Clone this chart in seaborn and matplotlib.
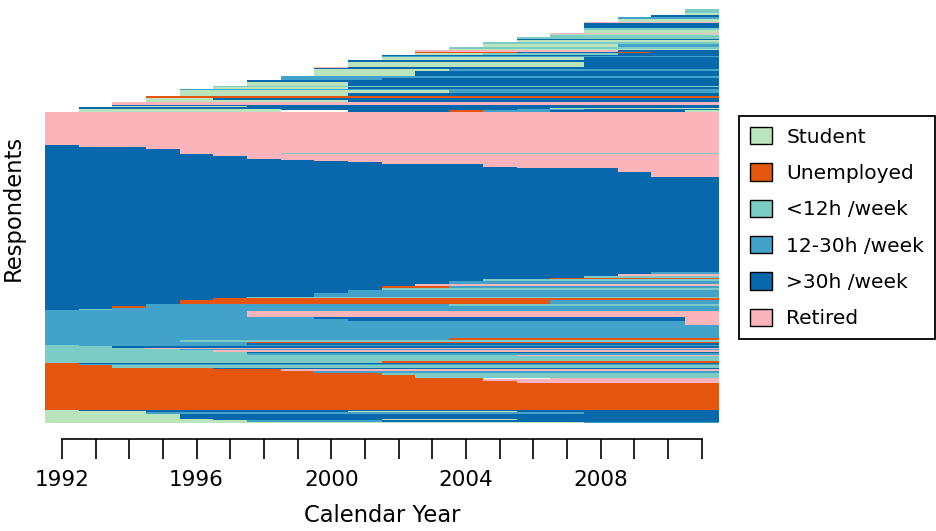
import matplotlib
matplotlib.use("Agg")
import matplotlib.pyplot as plt
from matplotlib.patches import Patch
import numpy as np
import pandas as pd
import seaborn as sns

# ---- data -----------------------------------------------------------------
years = list(range(1992, 2012))
tick_label_years = [1992, 1996, 2000, 2004, 2008]

state_codes = ["S", "U", "L", "M", "F", "R"]
state_labels = ["Student", "Unemployed", "<12h /week", "12-30h /week", ">30h /week", "Retired"]
state_colors = ["#BAE4BC", "#E6550D", "#7BCCC4", "#43A2CA", "#0868AC", "#FBB4B9"]

# One entry per group of respondents sharing a trajectory, listed bottom-up.
# Each character is the activity in one calendar year ('.' = not yet observed).
sequence_counts = [
    # students in 1992
    1, 2, 1, 5, 2, 1, 1,
    # unemployed in 1992
    27, 2, 2, 1, 3, 2, 2, 2, 1, 3, 1, 1,
    # <12h /week in 1992
    2, 5, 1, 2, 1, 2, 1, 1, 2, 1,
    # 12-30h /week in 1992
    2, 1, 2, 2, 13, 4, 2, 2, 6, 1,
    # >30h /week in 1992
    1, 1, 2, 2, 4, 2, 1, 4, 3, 2, 2, 2, 3, 2, 1, 2, 2, 2,
    95,
    5, 4, 1, 3, 2, 1, 1, 1, 3, 2, 1, 4, 2, 2,
    # retired in 1992
    33,
    # later panel entrants, 1993 .. 2011
    2, 1, 1, 1,
    1, 1, 3,
    2, 2, 2,
    3, 3, 1,
    2, 1,
    4, 2,
    2, 2,
    5, 2, 1, 1,
    5, 2,
    3, 1, 1,
    2, 1, 2,
    1, 2,
    3, 2,
    2, 1, 2,
    2, 1, 1,
    3, 2, 5, 1,
    3, 2,
    2,
    2, 4,
]
sequence_states = [
    "SSSSSSSSSSSSSSSSMMMM", "SSSSSSMMMMFFFFFFFFFF", "SSSSSFFFFFSSSSFFFFFF",
    "SSSSFFFFFFFFFFFFFFFF", "SSSMMMMMMMMMMMMMFFFF", "SSSFFFFFFSSSSSFFFFFF",
    "SFFFFFFFFFFFFFFFFFFF",

    "UUUUUUUUUUUUUUUUUUUU", "UUUUUUUUUUUUUURRRRRR", "UUUUUUUUUUUUURRRRRRR",
    "UUUUUUUUUUUUU..RRRRR", "UUUUUUUUUUULLLLLLLLL", "UUUUUUUUUULLLLLLLLLL",
    "UUUUUUUUMMMMMMMMMMMM", "UUUUUUURRRRRRRRRRRRR", "UUUUUFFFFFFFFFFFFFFF",
    "UULLLLLLLLLLLLLLLLLL", "UMMMMMMMMMMMMMMMMMMM", "UFFFFFFFFFFFFFFFFFFF",

    "LLLLLLLLLLUUUUUUUUUU", "LLLLLLLLLLLLLLLLLLLL", "LLLLLLLLLLLLLLRRRRRR",
    "LLLLLLMMMMMMMMMMMMMM", "LLLLLLFFFFFFFFFFFFFF", "LLLLLRRRRRRRRRRRRRRR",
    "LLLLMMMMMMMMMMMMMMMM", "LLLRRRRRRRRRRRRRRRRR", "LLFFFFFFFFFFFFFFFFFF",
    "LMMMMMMMMMMMMMMMMMMM",

    "MMMMMMFFFFFFFFFFFFFF", "MMMMMMUUUUUUUUUUUUUU", "MMMMLLLLLLLLLLLLLLLL",
    "MMMMMMMMMMMMUUUUUUUU", "MMMMMMMMMMMMMMMMMMMM", "MMMMMMMMMMMMMMMMMMMR",
    "MMMMMMMMMFFFFFFFFFFR", "MMMMMMMMFFFFFFFFFFFR", "MMMMMMRRRRRRRRRRRRRR",
    "MMMMMMMMMMMMMMMMMMMM",

    "FLMMMMMMMMMMMMMMMMMM", "FFMMMMMMMMMMMMMMMMMM", "FFUMMMMMMMMMMMMMMMMM",
    "FFFMMMMMMMMMLLLLLLLL", "FFFFUUUUUUUUUUUMMMMM", "FFFFFUUUUUUUUUUUUUUU",
    "FFFFFFLLLLLLLLLLLLLL", "FFFFFFFFMMMMMMMMMMMM", "FFFFFFFFFMMMMMMMMMMM",
    "FFFFFFFFFFLLLLLLLLLL", "FFFFFFFFFFUUMMMMMMMM", "FFFFFFFFFFFRRRRRRRRR",
    "FFFFFFFFFFFFMMMMMMMM", "FFFFFFFFFFFFFLLLLLLL", "FFFFFFFFFFFFFFFUUUUU",
    "FFFFFFFFFFFFFFFFLLLL", "FFFFFFFFFFFFFFFFFRRR", "FFFFFFFFFFFFFFFFFFMM",
    "FFFFFFFFFFFFFFFFFFFF",
    "FFFFFFFFFFFFFFFFFFRR", "FFFFFFFFFFFFFFFFFRRR", "FFFFFFFFFFFFFFRRRRRR",
    "FFFFFFFFFFFFFRRRRRRR", "FFFFFFFFFFRRRRRRRRRR", "FFFFFFFFFRRRRRRRRRRR",
    "FFFFFFFFRRRRRRRRRRRR", "FFFFFFFRRRRRRRRRRRRR", "FFFFFFRRRRRRRRRRRRRR",
    "FFFFFRRRRRRRRRRRRRRR", "FFFFRRRLLLLLLLLLLLLL", "FFFFRRRRRRRRRRRRRRRR",
    "FFFRRRRRRRRRRRRRRRRR", "FRRRRRRRRRRRRRRRRRRR",

    "RRRRRRRRRRRRRRRRRRRR",

    ".SSSSSS..FFFUMMFFFFS", ".SSSSSSFFFFFFFMMFFFF", ".FFFFFFFFFFFFFFSSSSS",
    ".FFFFFFFFFFFFFFFFFFF",
    "..SSSSFFFFFFFFFFFFFF", "..FFFFFFFFFFFFFFFFFF", "..RRRRRRRRRRRRRRRRRR",
    "...SSSSSSFFFFFFFFFFF", "...SSFFFFFFFFFFFFFFF", "...UUUUUUUUUUUUUUUUU",
    "....SSSSSFFFFFFFFFFF", "....SSSSSSSSMMMMMMMM", "....MMMMMMMMMMMMMMMM",
    ".....SSSSFFFFFFFFFFF", ".....LLLLLLLLLLLLLLL",
    "......SSSFFFFFFFFFFF", "......FFFFFFFFFFFFFF",
    ".......MMMFFFFFFFFFF", ".......MMMMMMMMMMMMM",
    "........SSSFFFFFFFFF", "........SSSSMMMMMMMM", "........FFFFFFFFFFFF",
    "........RFFFFFFFFFFF",
    ".........SSSSSSSFFFF", ".........FFFFFFFFFFF",
    "..........SSSSSSFFFF", "..........MMMMMMMMMM", "..........FFFFFFFFFF",
    "...........SSLLLLFFF", "...........UUUFFFUFF", "...........RRRRRRFFF",
    "............SSSSSSSS", "............LLLLLLLL",
    ".............SSSSMMM", ".............LLLLLLL",
    "..............SSSSSS", "..............FFFFFF", "..............LLLLLL",
    "...............LLLLL", "...............SSSSS", "...............RRRRR",
    "................SSSS", "................LLLL", "................FFFF",
    "................RRRR",
    ".................SSS", ".................MMM",
    "..................FF",
    "...................S", "...................L",
]

# ---- build one bar per run of identical states --------------------------------
segments = []
bottom = 0
for count, seq in zip(sequence_counts, sequence_states):
    i = 0
    while i < len(seq):
        j = i
        while j < len(seq) and seq[j] == seq[i]:
            j += 1
        if seq[i] != ".":
            segments.append({"state": seq[i], "start": years[i], "length": j - i,
                             "bottom": bottom, "count": count})
        i = j
    bottom += count
segments = pd.DataFrame(segments)
total = bottom

# ---- figure -----------------------------------------------------------------
sns.set_style("white")
plt.rcParams["font.family"] = ["DejaVu Sans"]
plt.rcParams["text.color"] = "black"
plt.rcParams["axes.labelcolor"] = "black"
plt.rcParams["xtick.color"] = "black"
palette = dict(zip(state_codes, sns.color_palette(state_colors)))

W, H = 937, 531
fig = plt.figure(figsize=(W / 100, H / 100), dpi=100)
ax = fig.add_axes([45 / W, 108 / H, 673.6 / W, 414 / H])

for code in state_codes:
    part = segments[segments["state"] == code]
    ax.bar(part["start"] - 0.5, part["count"], width=part["length"],
           bottom=part["bottom"], align="edge", color=palette[code],
           linewidth=0, antialiased=False)

ax.set_xlim(years[0] - 0.5, years[-1] + 0.5)
ax.set_ylim(0, total)

for side in ["top", "right", "left"]:
    ax.spines[side].set_visible(False)
ax.spines["bottom"].set_position(("outward", 11.5))
ax.spines["bottom"].set_bounds(years[0], years[-1])
ax.spines["bottom"].set_linewidth(1.2)
ax.spines["bottom"].set_color("black")

ax.set_xticks(years)
ax.set_xticklabels([str(y) if y in tick_label_years else "" for y in years])
ax.tick_params(axis="x", length=14.4, width=1.2, direction="out", pad=7.7,
               labelsize=15.5, colors="black", bottom=True)
ax.set_yticks([])

ax.set_xlabel("Calendar Year", fontsize=16.3, labelpad=10.5, color="black")
ax.set_ylabel("Respondents", fontsize=16.3, color="black")
ax.yaxis.set_label_coords(-0.0297, 0.519)

handles = [Patch(facecolor=palette[c], edgecolor="black", linewidth=1.0, label=l)
           for c, l in zip(state_codes, state_labels)]
leg = ax.legend(handles=handles, loc="upper left",
                bbox_to_anchor=(739 / W, 1 - 116 / H), bbox_transform=fig.transFigure,
                borderaxespad=0, fontsize=14.5, handlelength=1.1, handleheight=0.95,
                handletextpad=0.7, labelspacing=0.83, borderpad=0.55,
                fancybox=False, framealpha=1, edgecolor="black")
leg.get_frame().set_linewidth(1.3)
for t in leg.get_texts():
    t.set_color("black")

fig.savefig("out.png", dpi=100)
